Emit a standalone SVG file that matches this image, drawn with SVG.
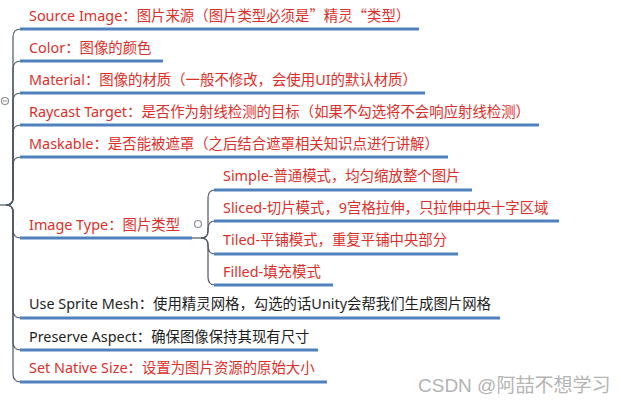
<svg xmlns="http://www.w3.org/2000/svg" width="621" height="405" viewBox="0 0 621 405">
<style>
.t{font-family:"Noto Sans","Noto Sans CJK SC",sans-serif;font-size:14.4px}
.q{font-family:"Noto Sans CJK SC",sans-serif}
.r{fill:#dc2f2a}
.k{fill:#1e1e1e}
.u{stroke:#4f81bd;stroke-width:3;fill:none;stroke-linecap:butt}
.c{stroke:#4d5866;stroke-width:1.2;fill:none}
.o{fill:#fff;stroke:#8a8f96;stroke-width:1.2}
.w{font-family:"Liberation Sans","Noto Sans CJK SC",sans-serif;font-size:19px;fill:#b4b4b4}
</style>
<rect width="621" height="405" fill="#fff"/>
<g id="connectors">
<path class="c" d="M0 205 H6"/>
<path class="c" d="M6 205 Q13 205 13 198 L13 37 Q13 29 21 29"/>
<path class="c" d="M6 205 Q13 205 13 198 L13 69 Q13 61 21 61"/>
<path class="c" d="M6 205 Q13 205 13 198 L13 101 Q13 93 21 93"/>
<path class="c" d="M6 205 Q13 205 13 198 L13 133 Q13 125 21 125"/>
<path class="c" d="M6 205 Q13 205 13 198 L13 165 Q13 157 21 157"/>
<path class="c" d="M6 205 Q13 205 13 212 L13 230 Q13 238 21 238"/>
<path class="c" d="M6 205 Q13 205 13 212 L13 310 Q13 318 21 318"/>
<path class="c" d="M6 205 Q13 205 13 212 L13 342 Q13 350 21 350"/>
<path class="c" d="M6 205 Q13 205 13 212 L13 374 Q13 382 21 382"/>
<path class="c" d="M192 238 H201"/>
<path class="c" d="M201 238 Q208 238 208 231 L208 198 Q208 190 215 190"/>
<path class="c" d="M201 238 Q208 238 208 231 L208 229 Q208 221 215 221"/>
<path class="c" d="M201 238 Q208 238 208 245 L208 246 Q208 254 215 254"/>
<path class="c" d="M201 238 Q208 238 208 245 L208 277 Q208 285 215 285"/>
</g>
<circle class="o" cx="5" cy="101" r="3.5"/>
<path d="M3 101 H7" stroke="#8a8f96" stroke-width="1"/>
<g id="source-image"><path class="u" d="M20 29 H419"/><text class="t r" x="29" y="21">Source Image：图片来源（图片类型必须是<tspan class="q">”</tspan>精灵<tspan class="q">“</tspan>类型）</text></g>
<g id="color"><path class="u" d="M20 61 H163"/><text class="t r" x="29" y="53">Color：图像的颜色</text></g>
<g id="material"><path class="u" d="M20 93 H425"/><text class="t r" x="29" y="85">Material：图像的材质（一般不修改，会使用UI的默认材质）</text></g>
<g id="raycast-target"><path class="u" d="M20 125 H539"/><text class="t r" x="29" y="117">Raycast Target：是否作为射线检测的目标（如果不勾选将不会响应射线检测）</text></g>
<g id="maskable"><path class="u" d="M20 157 H448"/><text class="t r" x="29" y="149">Maskable：是否能被遮罩（之后结合遮罩相关知识点进行讲解）</text></g>
<g id="image-type"><path class="u" d="M20 238 H192"/><text class="t r" x="29" y="230">Image Type：图片类型</text><circle class="o" cx="198" cy="224" r="3.5"/></g>
<g id="simple"><path class="u" d="M214 190 H472"/><text class="t r" x="223" y="181">Simple-普通模式，均匀缩放整个图片</text></g>
<g id="sliced"><path class="u" d="M214 221 H559"/><text class="t r" x="223" y="213">Sliced-切片模式，9宫格拉伸，只拉伸中央十字区域</text></g>
<g id="tiled"><path class="u" d="M214 254 H458"/><text class="t r" x="223" y="245">Tiled-平铺模式，重复平铺中央部分</text></g>
<g id="filled"><path class="u" d="M214 285 H333"/><text class="t r" x="223" y="277">Filled-填充模式</text></g>
<g id="use-sprite-mesh"><path class="u" d="M20 318 H500"/><text class="t k" x="29" y="309">Use Sprite Mesh：使用精灵网格，勾选的话Unity会帮我们生成图片网格</text></g>
<g id="preserve-aspect"><path class="u" d="M20 350 H318"/><text class="t k" x="29" y="342">Preserve Aspect：确保图像保持其现有尺寸</text></g>
<g id="set-native-size"><path class="u" d="M20 382 H327"/><text class="t r" x="29" y="373">Set Native Size：设置为图片资源的原始大小</text></g>
<text class="w" x="418" y="392">CSDN @阿喆不想学习</text>
</svg>
